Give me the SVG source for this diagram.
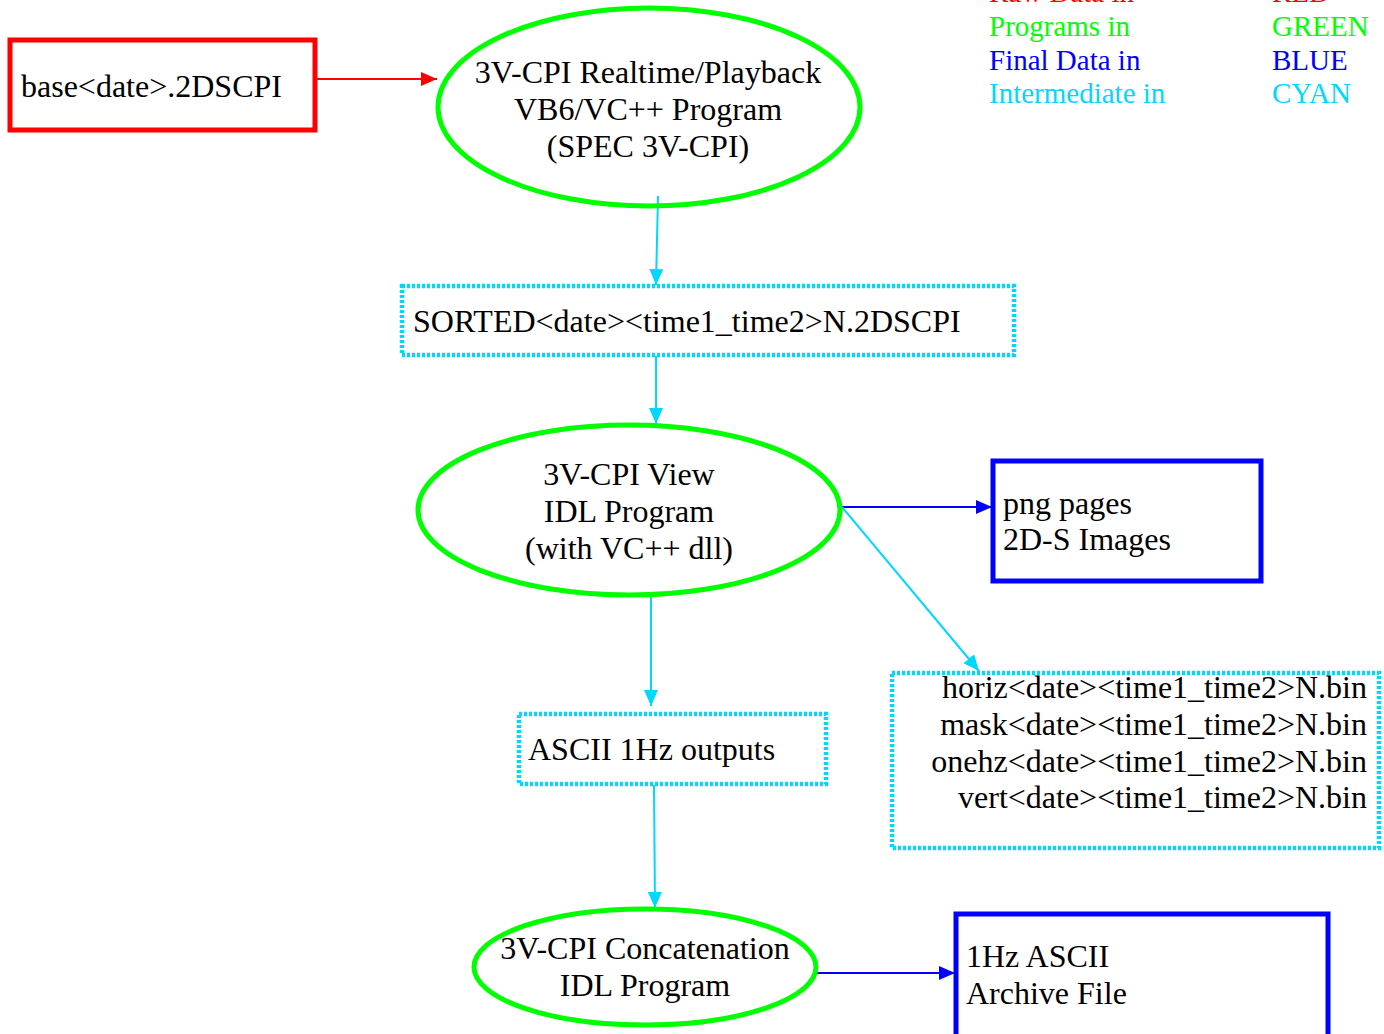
<svg xmlns="http://www.w3.org/2000/svg" width="1384" height="1034" viewBox="0 0 1384 1034">
<defs>
<style>
text{font-family:"Liberation Serif","Times New Roman",serif;font-size:32px;fill:#000}
.lg{font-size:29px}
.prog{fill:none;stroke:#00ff00;stroke-width:5}
.raw{fill:none;stroke:#ff0000;stroke-width:5}
.fin{fill:none;stroke:#0000ff;stroke-width:5}
.mid{fill:none;stroke:#00d8ff;stroke-width:4.5;stroke-dasharray:3 2}
.c{text-anchor:middle}
.r{text-anchor:end}
</style>
<marker id="ar" markerWidth="16" markerHeight="14" refX="16" refY="7" orient="auto" markerUnits="userSpaceOnUse"><path d="M0,0 L16,7 L0,14 Z" fill="#ff0000"/></marker>
<marker id="ac" markerWidth="16" markerHeight="14" refX="16" refY="7" orient="auto" markerUnits="userSpaceOnUse"><path d="M0,0 L16,7 L0,14 Z" fill="#00d8ff"/></marker>
<marker id="ab" markerWidth="16" markerHeight="14" refX="16" refY="7" orient="auto" markerUnits="userSpaceOnUse"><path d="M0,0 L16,7 L0,14 Z" fill="#0000ff"/></marker>
</defs>
<rect width="1384" height="1034" fill="#fff"/>
<g id="legend">
<text class="lg" x="989" y="2" style="fill:#ff0000">Raw Data in</text>
<text class="lg" x="1272" y="2" style="fill:#ff0000">RED</text>
<text class="lg" x="989" y="36" style="fill:#00ff00">Programs in</text>
<text class="lg" x="1272" y="36" style="fill:#00ff00">GREEN</text>
<text class="lg" x="989" y="70" style="fill:#0000ff">Final Data in</text>
<text class="lg" x="1272" y="70" style="fill:#0000ff">BLUE</text>
<text class="lg" x="989" y="103" style="fill:#00d8ff">Intermediate in</text>
<text class="lg" x="1272" y="103" style="fill:#00d8ff">CYAN</text>
</g>
<g id="connectors">
<line x1="315" y1="79" x2="437" y2="79" stroke="#ff0000" stroke-width="2" marker-end="url(#ar)"/>
<line x1="658" y1="196" x2="656" y2="285" stroke="#00d8ff" stroke-width="2" marker-end="url(#ac)"/>
<line x1="656" y1="356" x2="656" y2="424" stroke="#00d8ff" stroke-width="2" marker-end="url(#ac)"/>
<line x1="842" y1="507" x2="992" y2="507" stroke="#0000ff" stroke-width="2" marker-end="url(#ab)"/>
<line x1="842" y1="507" x2="979" y2="671" stroke="#00d8ff" stroke-width="2" marker-end="url(#ac)"/>
<line x1="651" y1="597" x2="651" y2="706" stroke="#00d8ff" stroke-width="2" marker-end="url(#ac)"/>
<line x1="654" y1="785" x2="655" y2="908" stroke="#00d8ff" stroke-width="2" marker-end="url(#ac)"/>
<line x1="817" y1="973" x2="955" y2="973" stroke="#0000ff" stroke-width="2" marker-end="url(#ab)"/>
</g>
<g id="base">
<rect class="raw" x="10" y="40" width="305" height="90"/>
<text x="21" y="97">base&lt;date&gt;.2DSCPI</text>
</g>
<g id="realtime">
<ellipse class="prog" cx="649" cy="107" rx="211" ry="99"/>
<text class="c" x="648" y="83">3V-CPI Realtime/Playback</text>
<text class="c" x="648" y="120">VB6/VC++ Program</text>
<text class="c" x="648" y="157">(SPEC 3V-CPI)</text>
</g>
<g id="sorted">
<rect class="mid" x="402" y="286" width="612" height="69"/>
<text x="413" y="332">SORTED&lt;date&gt;&lt;time1_time2&gt;N.2DSCPI</text>
</g>
<g id="view">
<ellipse class="prog" cx="629" cy="510" rx="211" ry="85"/>
<text class="c" x="629" y="485">3V-CPI View</text>
<text class="c" x="629" y="522">IDL Program</text>
<text class="c" x="629" y="559">(with VC++ dll)</text>
</g>
<g id="png">
<rect class="fin" x="993" y="461" width="268" height="120"/>
<text x="1003" y="514">png pages</text>
<text x="1003" y="550">2D-S Images</text>
</g>
<g id="bins">
<rect class="mid" x="892" y="673" width="487" height="175"/>
<text class="r" x="1367" y="698">horiz&lt;date&gt;&lt;time1_time2&gt;N.bin</text>
<text class="r" x="1367" y="735">mask&lt;date&gt;&lt;time1_time2&gt;N.bin</text>
<text class="r" x="1367" y="772">onehz&lt;date&gt;&lt;time1_time2&gt;N.bin</text>
<text class="r" x="1367" y="808">vert&lt;date&gt;&lt;time1_time2&gt;N.bin</text>
</g>
<g id="ascii">
<rect class="mid" x="519" y="714" width="307" height="70"/>
<text x="528" y="760">ASCII 1Hz outputs</text>
</g>
<g id="concat">
<ellipse class="prog" cx="645" cy="967" rx="171" ry="58"/>
<text class="c" x="645" y="959">3V-CPI Concatenation</text>
<text class="c" x="645" y="996">IDL Program</text>
</g>
<g id="archive">
<rect class="fin" x="956" y="914" width="372" height="125"/>
<text x="966" y="967">1Hz ASCII</text>
<text x="966" y="1004">Archive File</text>
</g>
</svg>
